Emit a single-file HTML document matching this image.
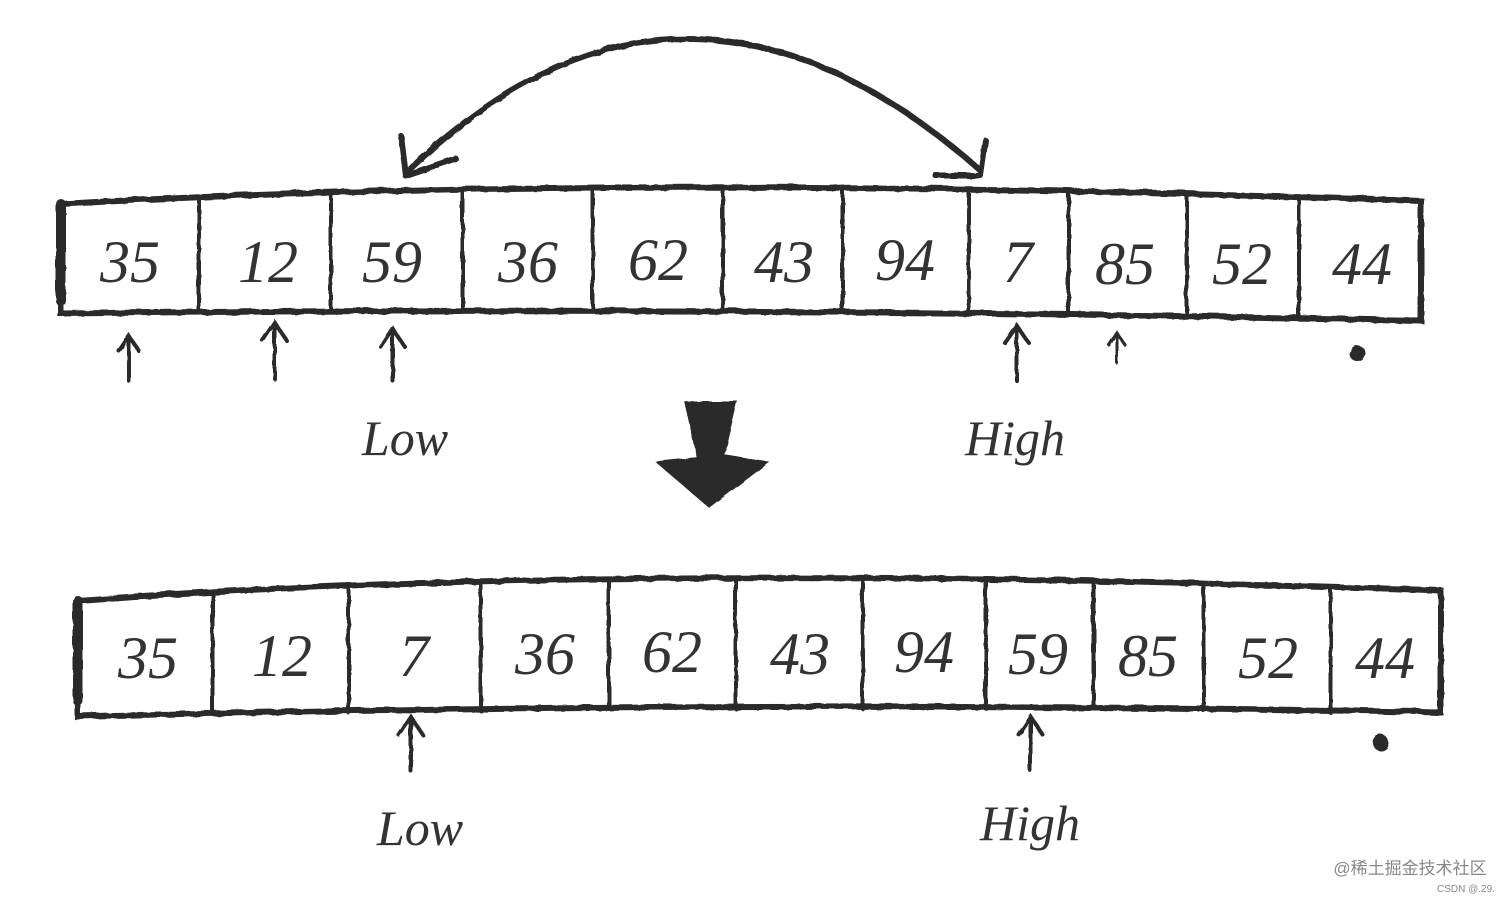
<!DOCTYPE html>
<html><head><meta charset="utf-8"><style>
html,body{margin:0;padding:0;background:#fff;}
svg{display:block;}
.n{font-family:"Liberation Serif",serif;font-style:italic;font-size:60px;fill:#333;text-anchor:middle;}
.l{font-family:"Liberation Serif",serif;font-style:italic;font-size:50px;fill:#333;text-anchor:middle;}
</style></head><body>
<svg width="1512" height="902" viewBox="0 0 1512 902" xmlns="http://www.w3.org/2000/svg">
<defs>
<filter id="r"><feTurbulence baseFrequency="0.04" numOctaves="2" seed="3"/><feDisplacementMap in="SourceGraphic" scale="3"/></filter>
</defs>
<g filter="url(#r)" stroke="#2b2b2b" fill="none" stroke-linecap="round">
<path d="M60 203 Q600 172 1420 200 L1420 320 Q700 305 60 313 Z" stroke-width="6"/>
<path d="M60 203 L60 300" stroke-width="10"/>
<g stroke-width="4">
<path d="M198 198 V312"/><path d="M330 193 V310"/><path d="M462 190 V310"/><path d="M592 188 V310"/><path d="M722 186 V310"/><path d="M842 186 V310"/><path d="M968 190 V312"/><path d="M1068 192 V314"/><path d="M1186 194 V316"/><path d="M1298 196 V318"/>
</g>
<path d="M405 172 Q680 -95 980 170" stroke-width="6"/>
<path d="M405 175 L400 135 M405 175 L455 158" stroke-width="6"/>
<path d="M980 175 L985 140 M980 175 L935 175" stroke-width="6"/>
<g stroke-width="4">
<path d="M128 380 V335 M118 350 L128 335 L138 350"/>
<path d="M274 378 V322 M262 340 L274 322 L286 340"/>
<path d="M392 380 V328 M380 346 L392 328 L404 346"/>
<path d="M1016 380 V325 M1004 342 L1016 325 L1028 342"/>
<path d="M1116 362 V332 M1108 344 L1116 332 L1124 344" stroke-width="3"/>
</g>
<circle cx="1357" cy="353" r="8" fill="#2b2b2b" stroke="none"/>
<path d="M685 402 L735 402 L722 455 L765 462 L708 505 L658 462 L698 458 Z" fill="#2b2b2b" stroke-width="3"/>
<path d="M77 600 Q620 560 1440 590 L1440 712 Q760 698 77 716 Z" stroke-width="6"/>
<path d="M77 600 L77 700" stroke-width="10"/>
<g stroke-width="4">
<path d="M212 594 V714"/><path d="M348 588 V712"/><path d="M480 584 V710"/><path d="M608 580 V708"/><path d="M735 578 V708"/><path d="M862 580 V708"/><path d="M985 582 V708"/><path d="M1093 584 V708"/><path d="M1203 586 V710"/><path d="M1330 588 V712"/>
</g>
<g stroke-width="4">
<path d="M410 770 V716 M398 734 L410 716 L422 734"/>
<path d="M1030 770 V716 M1018 734 L1030 716 L1042 734"/>
</g>
<circle cx="1380" cy="742" r="8" fill="#2b2b2b" stroke="none"/>
</g>
<g class="n">
<text x="130" y="282">35</text><text x="268" y="282">12</text><text x="392" y="282">59</text><text x="528" y="282">36</text><text x="658" y="280">62</text><text x="784" y="282">43</text><text x="905" y="280">94</text><text x="1018" y="282">7</text><text x="1125" y="284">85</text><text x="1242" y="284">52</text><text x="1362" y="284">44</text>
<text x="148" y="678">35</text><text x="282" y="676">12</text><text x="414" y="676">7</text><text x="545" y="674">36</text><text x="672" y="672">62</text><text x="800" y="674">43</text><text x="924" y="672">94</text><text x="1038" y="674">59</text><text x="1148" y="676">85</text><text x="1268" y="678">52</text><text x="1385" y="678">44</text>
</g>
<g class="l">
<text x="405" y="455">Low</text><text x="1015" y="455">High</text>
<text x="420" y="845">Low</text><text x="1030" y="840">High</text>
</g>
<text x="1410" y="874" font-family="Liberation Sans,'Noto Sans CJK SC',sans-serif" font-size="17" fill="#888" text-anchor="middle">@稀土掘金技术社区</text>
<text x="1466" y="892" font-family="Liberation Sans,sans-serif" font-size="10" fill="#888" text-anchor="middle">CSDN @.29.</text>
</svg>
</body></html>
